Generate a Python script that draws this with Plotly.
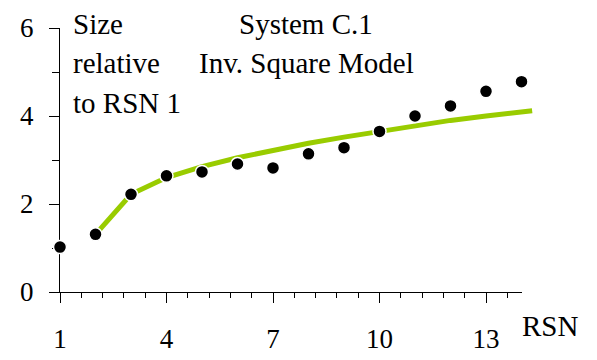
import plotly.graph_objects as go

# ---- data ----
rsn = [1, 2, 3, 4, 5, 6, 7, 8, 9, 10, 11, 12, 13, 14]
size_rel = [1.02, 1.31, 2.22, 2.64, 2.73, 2.91, 2.82, 3.14, 3.28, 3.65, 4.0, 4.23, 4.56, 4.78]

model_x = [2, 3, 4, 5, 6, 7, 8, 9, 10, 11, 12, 13, 14, 14.3]
model_y = [1.31, 2.22, 2.6, 2.85, 3.05, 3.22, 3.38, 3.52, 3.65, 3.77, 3.9, 4.0, 4.08, 4.12]

x_ticks = [1, 4, 7, 10, 13]
y_ticks = [0, 2, 4, 6]

FONT = "Liberation Serif"
GREEN = "#99CC00"

# ---- geometry (pixels) ----
W, H = 597, 360
ML, MR, MT, MB = 60, 55, 28, 68
plot_w = W - ML - MR
plot_h = H - MT - MB
x_end_px = 521.5
px_per_unit = (x_end_px - ML) / (14 - 1)
x2_end_px = 540
x2_dom = (x2_end_px - ML) / plot_w
x2_range_end = 1 + (x2_end_px - ML) / px_per_unit

def px(xp):
    return (xp - ML) / plot_w

def py(yp):
    return 1 - (yp - MT) / plot_h

fig = go.Figure()

# empty trace so the main (visible) x/y subplot is created
fig.add_trace(go.Scatter(x=[], y=[], xaxis="x", yaxis="y", showlegend=False, hoverinfo="skip"))
# both data traces live on the (invisible) wider x2 axis, same scale as x
fig.add_trace(go.Scatter(
    x=model_x, y=model_y, mode="lines", xaxis="x2", yaxis="y",
    line=dict(color=GREEN, width=5), hoverinfo="skip", showlegend=False,
))
fig.add_trace(go.Scatter(
    x=rsn, y=size_rel, mode="markers", xaxis="x2", yaxis="y",
    marker=dict(color="black", size=13, line=dict(color="white", width=1.5)),
    cliponaxis=False, showlegend=False,
))

TICK_FONT = dict(family=FONT, size=27, color="black")

fig.update_layout(
    width=W, height=H,
    margin=dict(l=ML, r=MR, t=MT, b=MB, pad=0, autoexpand=False),
    paper_bgcolor="white", plot_bgcolor="rgba(0,0,0,0)",
    font=dict(family=FONT, color="black", size=27),
    showlegend=False,
    xaxis=dict(
        domain=[0, px(x_end_px)], range=[1, 14], anchor="y", automargin=False,
        showgrid=False, zeroline=False,
        showline=True, linecolor="black", linewidth=1,
        tickmode="array", tickvals=x_ticks, ticktext=[str(v) for v in x_ticks],
        ticks="outside", ticklen=10, tickcolor="black", tickwidth=1,
        ticklabelstandoff=13,
        minor=dict(tick0=1, dtick=0.6, ticks="outside", ticklen=5,
                   tickcolor="black", tickwidth=1, showgrid=False),
        tickfont=TICK_FONT,
    ),
    xaxis2=dict(
        domain=[0, x2_dom], range=[1, x2_range_end], anchor="y", automargin=False,
        visible=False, showgrid=False, zeroline=False,
    ),
    yaxis=dict(
        domain=[0, 1], range=[0, 6], anchor="x", automargin=False,
        showgrid=False, zeroline=False,
        showline=True, linecolor="black", linewidth=1,
        tickmode="array", tickvals=y_ticks, ticktext=[str(v) for v in y_ticks],
        ticks="outside", ticklen=10, tickcolor="black", tickwidth=1,
        ticklabelstandoff=10,
        minor=dict(dtick=1, ticks="outside", ticklen=7,
                   tickcolor="black", tickwidth=1, showgrid=False),
        tickfont=TICK_FONT,
    ),
)

ann_font = dict(family=FONT, size=29, color="black")
left_lines = [("Size", 24), ("relative", 63), ("to RSN 1", 103)]
for txt, yc in left_lines:
    fig.add_annotation(text=txt, xref="paper", yref="paper", x=px(71), y=py(yc),
                       xanchor="left", yanchor="middle", showarrow=False, font=ann_font)

title_lines = [("System C.1", 24), ("Inv. Square Model", 63)]
for txt, yc in title_lines:
    fig.add_annotation(text=txt, xref="paper", yref="paper", x=px(306), y=py(yc),
                       xanchor="center", yanchor="middle", showarrow=False, font=ann_font)

fig.add_annotation(text="RSN", xref="paper", yref="paper", x=px(520), y=py(326),
                   xanchor="left", yanchor="middle", showarrow=False, font=ann_font)

fig.write_html("out.html")
